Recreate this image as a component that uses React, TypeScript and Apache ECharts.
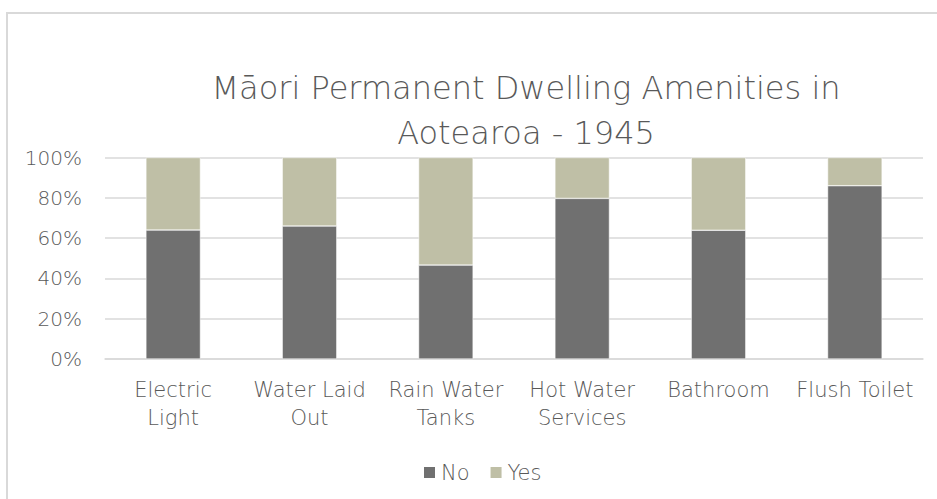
import React, { useEffect, useRef } from "react";
import * as echarts from "echarts";

const titleText = "Māori Permanent Dwelling Amenities in\nAotearoa - 1945";
const categories = [
  "Electric\nLight",
  "Water Laid\nOut",
  "Rain Water\nTanks",
  "Hot Water\nServices",
  "Bathroom",
  "Flush Toilet",
];
const seriesNames = ["No", "Yes"];
const noShare = [64.0, 66.0, 46.6, 79.7, 63.9, 86.0];
const yesShare = [36.0, 34.0, 53.4, 20.3, 36.1, 14.0];
const yTicks = [0, 20, 40, 60, 80, 100];

const FONT = "'Century Gothic', 'URW Gothic', 'DejaVu Sans', sans-serif";
const TEXT = "#595959";
const W = 200;

export default function App() {
  const ref = useRef<HTMLDivElement>(null);
  useEffect(() => {
    if (!ref.current) return;
    const chart = echarts.init(ref.current, null, { renderer: "svg" });
    chart.setOption({
      animation: false,
      backgroundColor: "#ffffff",
      textStyle: { fontFamily: FONT, color: TEXT, fontWeight: W },
      graphic: [
        {
          type: "rect",
          shape: { x: 7, y: 13, width: 960, height: 520 },
          style: { fill: "none", stroke: "#d9d9d9", lineWidth: 2 },
          silent: true,
          z: -1,
        },
      ],
      title: {
        text: titleText,
        left: 521,
        textAlign: "center",
        top: 60,
        textStyle: {
          fontFamily: FONT,
          fontWeight: W,
          fontSize: 32,
          lineHeight: 45,
          color: TEXT,
        },
      },
      legend: {
        data: seriesNames,
        top: 462,
        left: 422,
        padding: 0,
        itemWidth: 13,
        itemHeight: 13,
        itemGap: 19,
        icon: "rect",
        textStyle: { fontFamily: FONT, fontWeight: W, fontSize: 21, color: TEXT },
      },
      grid: { left: 105, right: 14, top: 157.5, bottom: 140, containLabel: false },
      xAxis: {
        type: "category",
        data: categories,
        axisLine: { show: true, lineStyle: { color: "#d9d9d9", width: 1.5 } },
        axisTick: { show: false },
        axisLabel: {
          interval: 0,
          fontFamily: FONT,
          fontWeight: W,
          fontSize: 21,
          lineHeight: 28,
          color: TEXT,
          margin: 17,
        },
      },
      yAxis: {
        type: "value",
        min: 0,
        max: 100,
        interval: 20,
        axisLine: { show: false },
        axisTick: { show: false },
        splitLine: { lineStyle: { color: "#d9d9d9", width: 1.5 } },
        axisLabel: {
          fontFamily: FONT,
          fontWeight: W,
          fontSize: 20,
          color: TEXT,
          margin: 23,
          formatter: (v: number) => (yTicks.includes(v) ? `${v}%` : ""),
        },
      },
      series: [
        {
          name: seriesNames[0],
          type: "bar",
          stack: "total",
          data: noShare,
          barWidth: "40%",
          itemStyle: { color: "#707070", borderColor: "#ffffff", borderWidth: 0.5 },
        },
        {
          name: seriesNames[1],
          type: "bar",
          stack: "total",
          data: yesShare,
          barWidth: "40%",
          itemStyle: { color: "#bfbfa6", borderColor: "#ffffff", borderWidth: 0.5 },
        },
      ],
    });
    return () => chart.dispose();
  }, []);
  return (
    <div
      ref={ref}
      style={{ position: "absolute", left: 0, top: 0, width: 937, height: 499 }}
    />
  );
}
